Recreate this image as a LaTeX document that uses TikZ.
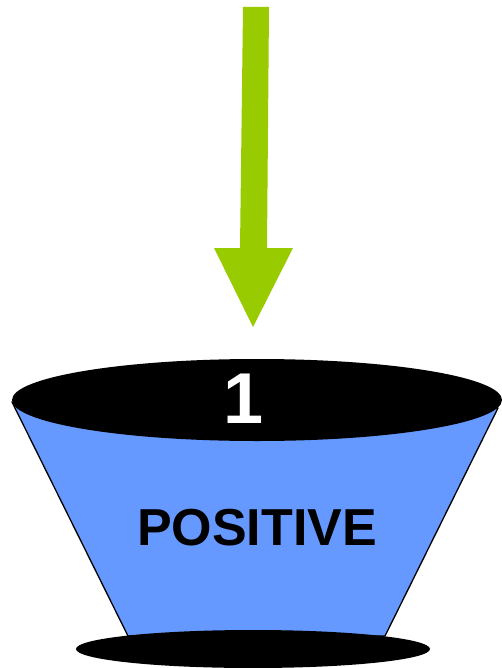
\documentclass[tikz,border=0pt]{standalone}
\usepackage{fontspec}
\setmainfont{Liberation Sans}
\definecolor{arrowgreen}{HTML}{99CC00}
\definecolor{coneblue}{HTML}{6699FF}
\begin{document}
\begin{tikzpicture}[x=1pt,y=-1pt,
  lbl/.style={font=\bfseries, inner sep=0pt, anchor=center}]
\useasboundingbox (0,0) rectangle (502,668);
% arrow
\fill[arrowgreen] (243,7) -- (269,7) -- (267,248) -- (293,248) -- (253,327) -- (214,248) -- (240,248) -- cycle;
% cone body
\filldraw[fill=coneblue, draw=black, line width=1.3pt, line join=round] (12,402) -- (498,408) -- (385,636) -- (128,636) -- cycle;
% top ellipse
\fill[black] (257,400) ellipse [x radius=245, y radius=41];
% bottom ellipse
\fill[black] (253,649) ellipse [x radius=177, y radius=19];
% texts
\node[lbl, text=white, font=\fontsize{72}{72}\bfseries] (num) at (244,399) {1};
\node[lbl, text=black, font=\fontsize{52}{52}\bfseries] (pos) at (257,528) {POSITIVE};
\end{tikzpicture}
\end{document}
